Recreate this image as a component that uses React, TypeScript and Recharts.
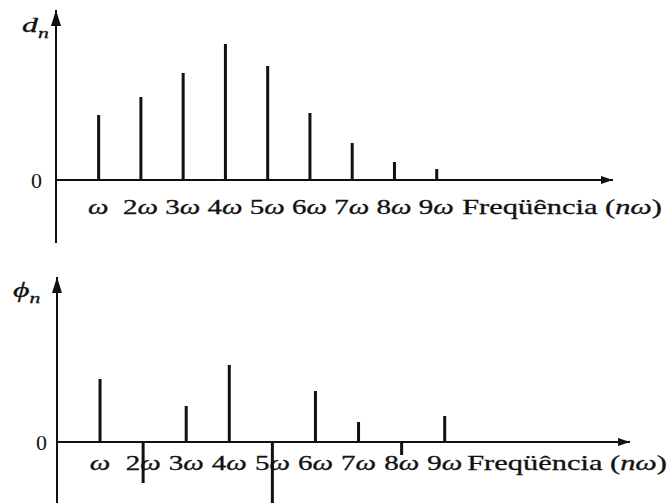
import { Bar, ComposedChart, ReferenceDot, ReferenceLine, XAxis, YAxis } from "recharts";

// harmonic number n and the label drawn under each stem
const harmonics = [1, 2, 3, 4, 5, 6, 7, 8, 9];
const tickLabels = ["ω", "2ω", "3ω", "4ω", "5ω", "6ω", "7ω", "8ω", "9ω"];

// arbitrary units
const amplitudes = [65, 83, 107, 136, 114, 67, 37, 18, 11];
const phases = [63, -41, 36, 77, -61, 51, 20, -13, 26];

const FONT = '"Liberation Serif", "DejaVu Serif", serif';
const INK = "#111";
const STRETCH = 1.45; // the scan is wider than it is tall

type PanelProps = {
  values: number[];
  symbol: string;
  top: number;
  height: number;
  margin: { top: number; right: number; bottom: number; left: number };
  yAxisWidth: number;
  xMax: number;
  yDomain: [number, number];
  tickShift: number;
  titleDx: number;
  titleDy: number;
  zeroMargin: number;
  symbolDx: number;
  symbolDy: number;
};

function harmonicTick(shift: number) {
  return (t: any) => {
    const label = tickLabels[harmonics.indexOf(t.payload.value)] ?? "";
    const coef = label.slice(0, -1);
    return (
      <text
        key={t.index}
        transform={`translate(${t.x},${t.y + shift}) scale(${STRETCH},1)`}
        textAnchor="middle"
        fontFamily={FONT}
        fontSize={20}
        fill={INK}
        stroke={INK}
        strokeWidth={0.3}
      >
        {coef}
        <tspan fontStyle="italic">ω</tspan>
      </text>
    );
  };
}

function SpectrumPanel(p: PanelProps) {
  const data = harmonics.map((n, i) => ({ n, v: p.values[i] }));

  const rightArrow = (s: any) => (
    <g>
      <path d={`M${s.cx},${s.cy} L${s.cx - 12},${s.cy - 4} L${s.cx - 12},${s.cy + 4} Z`} fill={INK} />
      <text
        transform={`translate(${s.cx + p.titleDx},${s.cy + p.titleDy}) scale(${STRETCH},1)`}
        textAnchor="end"
        fontFamily={FONT}
        fontSize={21}
        fill={INK}
        stroke={INK}
        strokeWidth={0.3}
      >
        Freqüência (<tspan fontStyle="italic">nω</tspan>)
      </text>
    </g>
  );

  const upArrow = (s: any) => (
    <g>
      <path d={`M${s.cx},${s.cy} L${s.cx - 5},${s.cy + 16} L${s.cx + 5},${s.cy + 16} Z`} fill={INK} />
      <text
        transform={`translate(${s.cx + p.symbolDx},${s.cy + p.symbolDy}) scale(${STRETCH},1)`}
        fontFamily={FONT}
        fontSize={22}
        fontStyle="italic"
        fill={INK}
        stroke={INK}
        strokeWidth={0.3}
      >
        {p.symbol}
        <tspan fontSize={15} dy={6}>
          n
        </tspan>
      </text>
    </g>
  );

  return (
    <div style={{ position: "absolute", left: 0, top: p.top }}>
      <ComposedChart width={670} height={p.height} data={data} margin={p.margin} style={{ overflow: "visible" }}>
        <XAxis
          dataKey="n"
          type="number"
          domain={[0, p.xMax]}
          ticks={harmonics}
          interval={0}
          height={1}
          axisLine={false}
          tickLine={false}
          tickSize={0}
          tickMargin={0}
          tick={harmonicTick(p.tickShift)}
        />
        <YAxis
          type="number"
          domain={p.yDomain}
          allowDataOverflow
          width={p.yAxisWidth}
          ticks={[0]}
          axisLine={false}
          tickLine={false}
          tickSize={0}
          tickMargin={p.zeroMargin}
          tick={{ fontFamily: FONT, fontSize: 22, fill: INK }}
        />
        <ReferenceLine y={0} stroke={INK} strokeWidth={2} />
        <ReferenceLine x={0} stroke={INK} strokeWidth={2} />
        <Bar dataKey="v" barSize={3} fill={INK} isAnimationActive={false} />
        <ReferenceDot x={p.xMax} y={0} shape={rightArrow} />
        <ReferenceDot x={0} y={p.yDomain[1]} shape={upArrow} />
      </ComposedChart>
    </div>
  );
}

export default function App() {
  return (
    <div style={{ position: "absolute", left: 0, top: 0, width: 670, height: 503, background: "#fff", overflow: "hidden" }}>
      <SpectrumPanel
        values={amplitudes}
        symbol="d"
        top={0}
        height={250}
        margin={{ top: 10, right: 57, bottom: 6, left: 0 }}
        yAxisWidth={56}
        xMax={13.18}
        yDomain={[-63, 170]}
        tickShift={-29}
        titleDx={49}
        titleDy={34}
        zeroMargin={14}
        symbolDx={-34}
        symbolDy={22}
      />
      <SpectrumPanel
        values={phases}
        symbol="ϕ"
        top={250}
        height={254}
        margin={{ top: 27, right: 40, bottom: 0, left: 0 }}
        yAxisWidth={57}
        xMax={13.3}
        yDomain={[-61, 165]}
        tickShift={-33}
        titleDx={37}
        titleDy={28}
        zeroMargin={10}
        symbolDx={-44}
        symbolDy={20}
      />
    </div>
  );
}
